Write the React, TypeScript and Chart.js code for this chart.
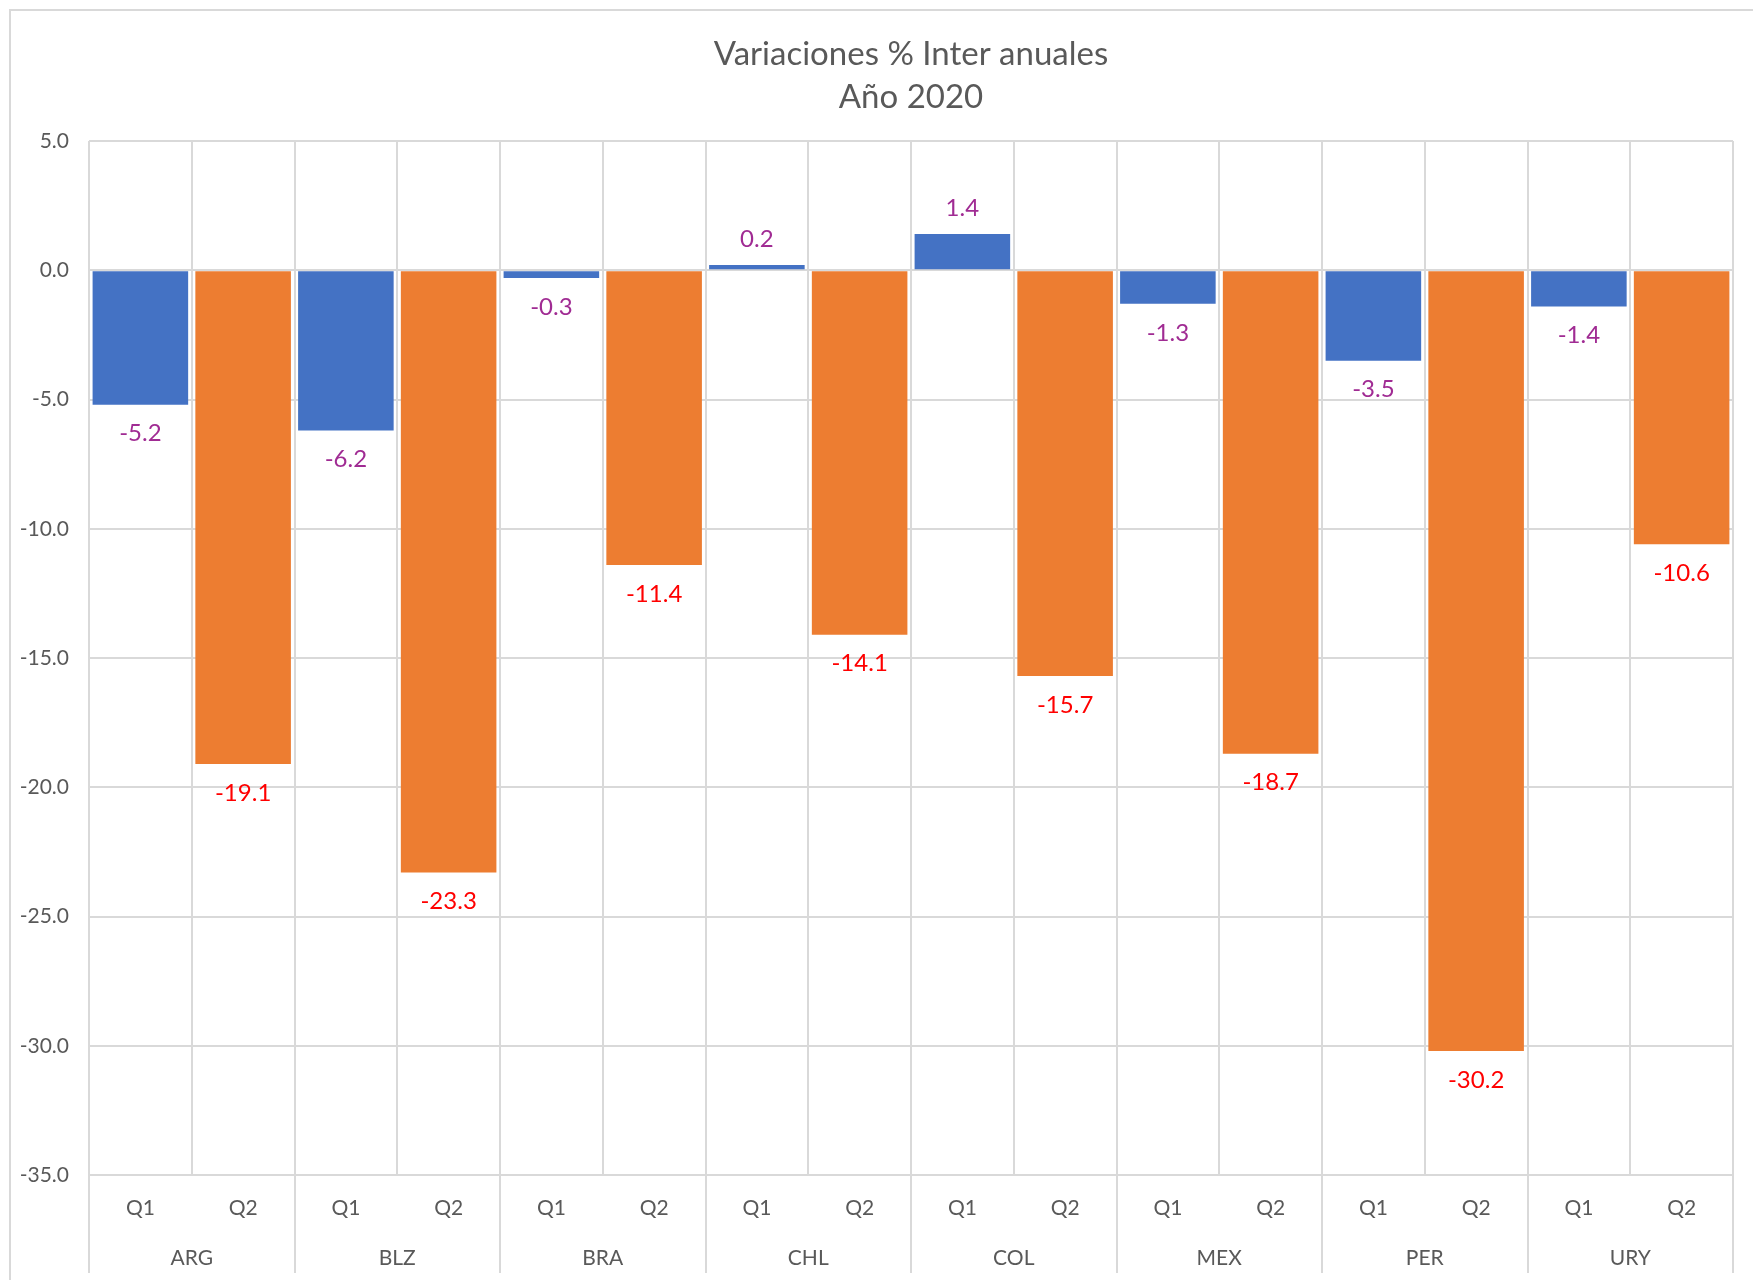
import React, { useEffect, useRef } from "react";
import { Chart, registerables } from "chart.js";

Chart.register(...registerables);

const COUNTRIES = ["ARG", "BLZ", "BRA", "CHL", "COL", "MEX", "PER", "URY"];
const QUARTERS = ["Q1", "Q2"];
const Q1_VALUES = [-5.2, -6.2, -0.3, 0.2, 1.4, -1.3, -3.5, -1.4];
const Q2_VALUES = [-19.1, -23.3, -11.4, -14.1, -15.7, -18.7, -30.2, -10.6];
const TITLE_LINES = ["Variaciones % Inter anuales", "Año 2020"];
const Y_MIN = -35;
const Y_MAX = 5;
const Y_STEP = 5;

const BLUE = "#4472C4";
const ORANGE = "#ED7D31";
const PURPLE = "#A02B93";
const RED = "#FF0000";
const GRID = "#D9D9D9";
const TEXT = "#595959";
const FONT = "Lato, 'Open Sans', sans-serif";

const labels: string[] = [];
const values: number[] = [];
const colors: string[] = [];
COUNTRIES.forEach((_, i) => {
  labels.push(QUARTERS[0]);
  values.push(Q1_VALUES[i]);
  colors.push(BLUE);
  labels.push(QUARTERS[1]);
  values.push(Q2_VALUES[i]);
  colors.push(ORANGE);
});

const valueLabels = {
  id: "valueLabels",
  afterDatasetsDraw(chart: any) {
    const ctx = chart.ctx;
    const meta = chart.getDatasetMeta(0);
    meta.data.forEach((bar: any, i: number) => {
      const v = values[i];
      const p = bar.getProps(["x", "y"], true);
      ctx.save();
      ctx.font = `24px ${FONT}`;
      ctx.fillStyle = i % 2 === 0 ? PURPLE : RED;
      ctx.textAlign = "center";
      ctx.textBaseline = "middle";
      ctx.fillText(v.toFixed(1), p.x, v < 0 ? p.y + 29 : p.y - 26);
      ctx.restore();
    });
  },
};

export default function App() {
  const ref = useRef<HTMLCanvasElement | null>(null);
  useEffect(() => {
    if (!ref.current) return;
    const chart = new Chart(ref.current, {
      type: "bar",
      data: {
        labels,
        datasets: [
          {
            data: values,
            backgroundColor: colors,
            barPercentage: 0.93,
            categoryPercentage: 1,
            xAxisID: "x",
            yAxisID: "y",
          },
        ],
      },
      options: {
        responsive: false,
        animation: false,
        layout: { padding: { top: 0, right: 20, bottom: 10, left: 0 } },
        plugins: {
          legend: { display: false },
          tooltip: { enabled: false },
          title: {
            display: true,
            fullSize: false,
            text: TITLE_LINES,
            color: TEXT,
            font: { family: FONT, size: 33, weight: "normal", lineHeight: 43 / 33 },
            padding: { top: 33, bottom: 22 },
          },
        },
        scales: {
          y: {
            min: Y_MIN,
            max: Y_MAX,
            ticks: {
              stepSize: Y_STEP,
              color: TEXT,
              font: { family: FONT, size: 21 },
              padding: 20,
              callback: (v: any) => Number(v).toFixed(1),
            },
            grid: { color: GRID, lineWidth: 2, drawTicks: false },
            border: { display: false },
            afterFit: (s: any) => {
              s.width = 89;
            },
          },
          x: {
            type: "category",
            position: "bottom",
            weight: 0,
            offset: true,
            ticks: {
              color: TEXT,
              font: { family: FONT, size: 21 },
              padding: -37,
              maxRotation: 0,
              autoSkip: false,
            },
            grid: {
              offset: true,
              color: GRID,
              lineWidth: 2,
              tickLength: 58,
              tickColor: (c: any) =>
                c.index === undefined || c.index % 2 === 0 ? GRID : "rgba(0,0,0,0)",
            },
            border: { display: false },
            afterFit: (s: any) => {
              s.height = 45;
            },
          },
          x2: {
            type: "category",
            position: "bottom",
            weight: 1,
            labels: COUNTRIES,
            offset: true,
            ticks: {
              color: TEXT,
              font: { family: FONT, size: 21 },
              padding: -27,
              maxRotation: 0,
              autoSkip: false,
            },
            grid: {
              offset: true,
              drawOnChartArea: false,
              color: GRID,
              lineWidth: 2,
              tickLength: 53,
            },
            border: { display: false },
            afterFit: (s: any) => {
              s.height = 50;
            },
          },
        },
      },
      plugins: [valueLabels],
    } as any);
    return () => chart.destroy();
  }, []);

  return (
    <div
      style={{
        position: "absolute",
        left: 0,
        top: 0,
        width: 1753,
        height: 1280,
        overflow: "hidden",
        background: "#fff",
      }}
    >
      <canvas ref={ref} width={1753} height={1280} style={{ display: "block" }} />
      <div
        style={{
          position: "absolute",
          left: 9,
          top: 9,
          width: 1800,
          height: 1400,
          border: `2px solid ${GRID}`,
          pointerEvents: "none",
        }}
      />
    </div>
  );
}
